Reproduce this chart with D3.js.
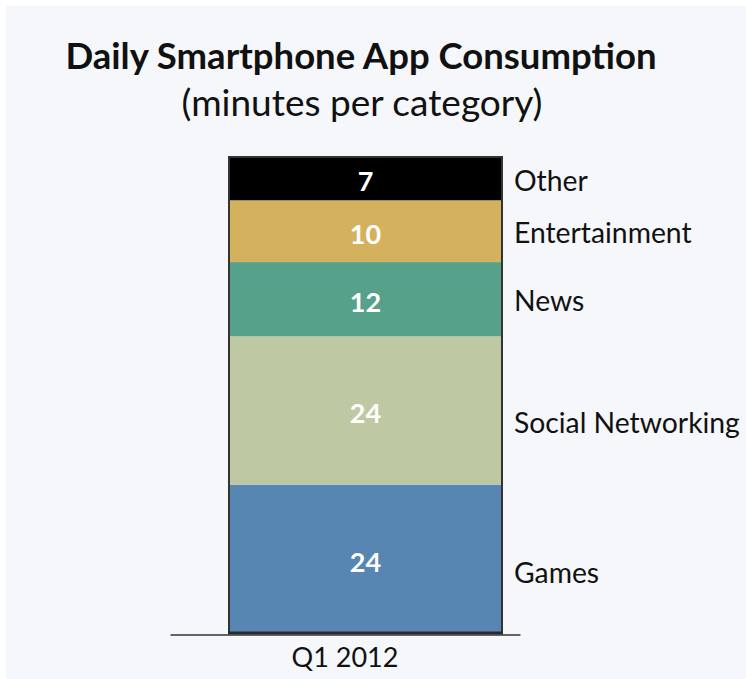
<!DOCTYPE html>
<html>
<head>
<meta charset="utf-8">
<script src="https://cdn.jsdelivr.net/npm/d3@7"></script>
<style>
  html, body { margin: 0; padding: 0; background: #ffffff; }
  svg { display: block; }
  text { font-family: Lato, "Open Sans", sans-serif; }
</style>
</head>
<body>
<svg id="chart" width="746" height="679"></svg>
<script>
// Quarter on the x axis
const periods = ["Q1 2012"];
// Stack order from bottom to top
const categories = ["Games", "Social Networking", "News", "Entertainment", "Other"];
// Minutes per day spent in each category
const minutes = [24, 24, 12, 10, 7];
const colors = ["#5786b2", "#bec9a3", "#56a18a", "#d4b15c", "#000000"];

const titleText = "Daily Smartphone App Consumption";
const subtitleText = "(minutes per category)";

const W = 746, H = 679;
const svg = d3.select("#chart");

// page background panel
svg.append("rect").attr("x", 6).attr("y", 6).attr("width", W - 6).attr("height", H - 6)
  .attr("fill", "#f5f7fa");

const row = { period: periods[0] };
categories.forEach((c, i) => { row[c] = minutes[i]; });
const series = d3.stack().keys(categories)([row]);
const total = d3.sum(minutes);

// the axis spans the plot area; the column sits inside it, shifted right
const xAxisScale = d3.scaleBand().domain(periods).range([170, 520]);
const x = d3.scaleBand().domain(periods).range([229, 502]);
const y = d3.scaleLinear().domain([0, total]).range([633, 157]);
const color = d3.scaleOrdinal().domain(categories).range(colors);

// title
svg.append("text").attr("x", 361).attr("y", 69).attr("text-anchor", "middle")
  .attr("font-size", 36.5).attr("font-weight", 700).attr("fill", "#111")
  .text(titleText);
svg.append("text").attr("x", 362).attr("y", 116).attr("text-anchor", "middle")
  .attr("font-size", 37).attr("fill", "#111")
  .text(subtitleText);

const g = svg.append("g");
// stacked segments
g.selectAll("rect.seg").data(series).join("rect")
  .attr("class", "seg")
  .attr("x", d => x(d[0].data.period))
  .attr("width", x.bandwidth())
  .attr("y", d => y(d[0][1]))
  .attr("height", d => y(d[0][0]) - y(d[0][1]))
  .attr("fill", d => color(d.key));

// dark outline round the whole column
g.append("rect")
  .attr("x", x(periods[0])).attr("width", x.bandwidth())
  .attr("y", y(total)).attr("height", y(0) - y(total))
  .attr("fill", "none").attr("stroke", "#333").attr("stroke-width", 2);
g.append("line")
  .attr("x1", x(periods[0]) - 1).attr("x2", x(periods[0]) + x.bandwidth() + 1)
  .attr("y1", y(0)).attr("y2", y(0))
  .attr("stroke", "#2a2a2a").attr("stroke-width", 3);

// value labels inside the segments
g.selectAll("text.val").data(series).join("text")
  .attr("class", "val")
  .attr("x", d => x(d[0].data.period) + x.bandwidth() / 2)
  .attr("y", d => (y(d[0][0]) + y(d[0][1])) / 2 + 3)
  .attr("dy", "0.36em")
  .attr("text-anchor", "middle")
  .attr("font-size", 27).attr("font-weight", 700).attr("fill", "#fff")
  .text(d => d[0][1] - d[0][0]);

// category names beside the column
const nudge = { "Games": 14, "Social Networking": 12, "News": 2, "Entertainment": 2, "Other": 2 };
g.selectAll("text.cat").data(series).join("text")
  .attr("class", "cat")
  .attr("x", x(periods[0]) + x.bandwidth() + 12)
  .attr("y", d => (y(d[0][0]) + y(d[0][1])) / 2 + nudge[d.key])
  .attr("dy", "0.36em")
  .attr("font-size", 28.3).attr("fill", "#111")
  .text(d => d.key);

// baseline axis
const axis = svg.append("g").attr("transform", `translate(0,${y(0) + 1.5})`)
  .call(d3.axisBottom(xAxisScale).tickSize(0).tickPadding(13));
axis.select(".domain").attr("stroke", "#333").attr("stroke-width", 1.5);
axis.selectAll(".tick text").attr("font-size", 27).attr("fill", "#111")
  .attr("font-family", "Lato, 'Open Sans', sans-serif");
</script>
</body>
</html>
